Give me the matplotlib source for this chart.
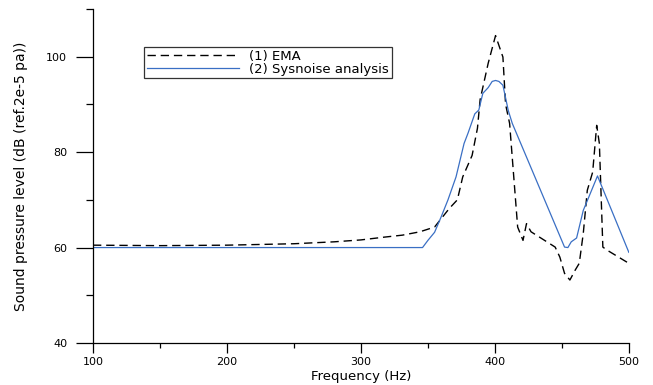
import matplotlib
matplotlib.use("Agg")
import matplotlib.pyplot as plt
from matplotlib.ticker import MultipleLocator

# the reference text is wide and short, DejaVu is the closest wide face
plt.rcParams['font.family'] = ['DejaVu Sans']

# (1) EMA - dashed curve
freq_ema = [100, 150, 200, 250, 280, 300, 318, 331, 344, 355, 366, 372, 376, 383,
            387, 389, 395, 400.5, 406, 408, 411, 417, 421, 423.6, 427, 445, 448.5,
            452, 456, 460, 463, 466, 469, 473, 476, 478, 480.6, 483.5, 500]
spl_ema = [60.5, 60.4, 60.5, 60.8, 61.2, 61.6, 62.2, 62.6, 63.3, 64.3, 68.2, 70, 74.8, 79.3,
           85, 91, 98.6, 104.4, 99.9, 90, 86, 64.3, 61.5, 65, 63.3, 60.1, 58,
           54.6, 53.2, 55.3, 56.7, 63, 72, 75.8, 85.6, 81.8, 60.1, 59.5, 56.7]

# (2) Sysnoise analysis - solid blue curve
freq_sys = [100, 346, 350, 355, 360, 365, 371, 377, 380, 385, 388, 391, 395, 398,
            400.5, 403, 406, 410, 413, 452, 454.5, 457, 461, 466, 470, 476.6, 500]
spl_sys = [60, 60, 61.5, 63.2, 66.5, 70, 74.8, 81.8, 84, 88, 88.8, 92.3, 93.5, 94.8,
           95, 94.8, 94, 88.7, 86, 60.1, 60, 61.2, 62, 67.8, 70.5, 75, 59]

fig = plt.figure(figsize=(6.53, 3.85), dpi=100)
ax = fig.add_axes([0.1424, 0.109, 0.8206, 0.868])

ax.plot(freq_ema, spl_ema, color='black', lw=1.0, dashes=(6, 3.5), label='(1) EMA')
ax.plot(freq_sys, spl_sys, color='#3a6fc4', lw=0.9, label='(2) Sysnoise analysis')

ax.set_xlim(100, 500)
ax.set_ylim(40, 110)
ax.xaxis.set_major_locator(MultipleLocator(100))
ax.xaxis.set_minor_locator(MultipleLocator(50))
ax.yaxis.set_minor_locator(MultipleLocator(10))
ax.set_yticks([40, 60, 80, 100])

ax.spines['top'].set_visible(False)
ax.spines['right'].set_visible(False)
for s in ['left', 'bottom']:
    ax.spines[s].set_linewidth(0.9)

ax.tick_params(axis='y', which='major', direction='out', length=12, width=0.9, labelsize=8, pad=6.5)
ax.tick_params(axis='y', which='minor', direction='out', length=5, width=0.9)
ax.tick_params(axis='x', which='major', direction='out', length=7, width=0.9, labelsize=8, pad=3)
ax.tick_params(axis='x', which='minor', direction='out', length=3.5, width=0.9)

ax.set_xlabel('Frequency (Hz)', fontsize=9.5)
ax.xaxis.set_label_coords(0.5, -0.081)
ax.xaxis.label.set_va('top')
ax.set_ylabel('Sound pressure level (dB (ref.2e-5 pa))', fontsize=10)
ax.yaxis.set_label_coords(-0.121, 0.5)

leg = ax.legend(loc='upper left', bbox_to_anchor=(0.095, 0.886), fontsize=9.5,
                frameon=True, fancybox=False, handlelength=7.0, handletextpad=0.8,
                borderpad=0.2, labelspacing=0, borderaxespad=0)
leg.get_frame().set_edgecolor('black')
leg.get_frame().set_linewidth(0.9)

fig.savefig('out.png', dpi=100)
